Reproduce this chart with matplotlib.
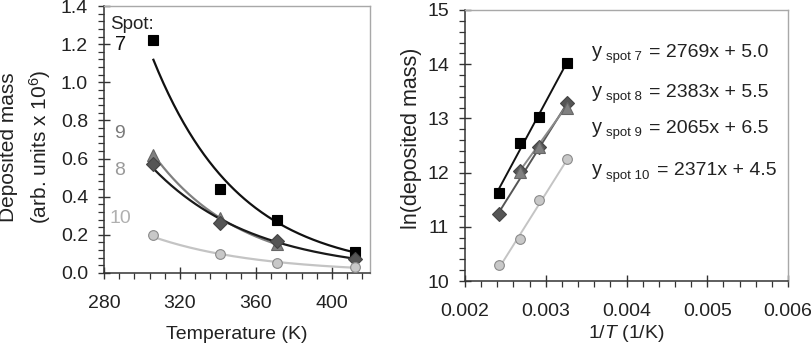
import numpy as np
import matplotlib
matplotlib.use("Agg")
import matplotlib.pyplot as plt
from matplotlib.ticker import MultipleLocator

plt.rcParams['font.family'] = ['Liberation Sans', 'DejaVu Sans']
plt.rcParams['mathtext.fontset'] = 'custom'
plt.rcParams['mathtext.rm'] = 'Liberation Sans'
plt.rcParams['mathtext.it'] = 'Liberation Sans:italic'

# left panel: deposited mass (arb. units x 10^6) vs temperature
temps = [306, 341, 371, 412]
mass_7 = [1.22, 0.44, 0.28, 0.11]
mass_8 = [0.57, 0.26, 0.17, 0.075]
temps_9 = [306, 341, 371]
mass_9 = [0.62, 0.29, 0.15]
mass_10 = [0.20, 0.10, 0.05, 0.03]

# right panel: ln(deposited mass) vs 1/T
inv_t = [0.00242, 0.00268, 0.00292, 0.00326]
inv_t_9 = [0.00268, 0.00292, 0.00326]
ln_7 = [11.62, 12.55, 13.02, 14.03]
ln_8 = [11.23, 12.03, 12.47, 13.29]
ln_9 = [12.01, 12.48, 13.19]
ln_10 = [10.30, 10.77, 11.49, 12.25]

spot_names = ['spot 7', 'spot 8', 'spot 9', 'spot 10']
slopes = [2769, 2383, 2065, 2371]
intercepts = [5.0, 5.5, 6.5, 4.5]

fig = plt.figure(figsize=(8.12, 3.47), dpi=100)
ax1 = fig.add_axes([0.1281, 0.2133, 0.3276, 0.7694])
ax2 = fig.add_axes([0.5727, 0.1902, 0.3978, 0.7810])


def style(ax):
    for s in ['left', 'bottom']:
        ax.spines[s].set_color('#333333')
        ax.spines[s].set_linewidth(1.1)
    for s in ['top', 'right']:
        ax.spines[s].set_color('#a8a8a8')
        ax.spines[s].set_linewidth(1.0)
    ax.tick_params(which='major', direction='inout', length=9, width=1,
                   color='#333333', labelcolor='#222222', labelsize=14)
    ax.tick_params(which='minor', direction='out', length=4.3, width=0.9,
                   color='#333333')
    ax.tick_params(axis='x', which='major', pad=11)
    ax.tick_params(axis='y', which='major', pad=7)


# ---- left panel ----
series_left = [
    (temps, mass_7, 's', 'black', 'black', '#111111', 7.7),
    (temps_9, mass_9, '^', '#808080', '#666666', '#808080', 8.5),
    (temps, mass_8, 'D', '#555555', '#444444', '#1a1a1a', 6.8),
    (temps, mass_10, 'o', '#c8c8c8', '#8a8a8a', '#c4c4c4', 7.0),
]
for t, m, mk, face, edge, lc, ms in series_left:
    t = np.array(t, dtype=float)
    coef = np.polyfit(t, np.log(m), 1)
    tt = np.linspace(t.min(), t.max(), 200)
    ax1.plot(tt, np.exp(np.polyval(coef, tt)), color=lc, lw=1.6, zorder=2)
for t, m, mk, face, edge, lc, ms in series_left:
    ax1.plot(t, m, ls='none', marker=mk, ms=ms, mfc=face, mec=edge, mew=0.8, zorder=3)

ax1.set_xlim(280, 420)
ax1.set_ylim(0, 1.4)
ax1.set_xticks([280, 320, 360, 400])
ax1.set_yticks(np.arange(0, 1.41, 0.2))
ax1.yaxis.set_major_formatter(plt.FormatStrFormatter('%.1f'))
ax1.xaxis.set_minor_locator(MultipleLocator(8))
ax1.yaxis.set_minor_locator(MultipleLocator(0.04))
style(ax1)

ax1.text(294.5, 1.305, 'Spot:', fontsize=13.5, ha='center', va='center', color='#222222')
ax1.text(288.5, 1.196, '7', fontsize=14.5, ha='center', va='center', color='#111111')
ax1.text(288, 0.734, '9', fontsize=14, ha='center', va='center', color='#7a7a7a')
ax1.text(288, 0.540, '8', fontsize=14, ha='center', va='center', color='#9a9a9a')
ax1.text(288.5, 0.288, '10', fontsize=14, ha='center', va='center', color='#b0b0b0')

fig.text(237 / 812, 0.035, 'Temperature (K)', fontsize=14, ha='center', va='center', color='#222222')
fig.text(9 / 812, 0.576, 'Deposited mass', fontsize=15, rotation=90,
         ha='center', va='center', color='#222222')
fig.text(40 / 812, 0.576, r'(arb. units x $\mathregular{10^6}$)', fontsize=15, rotation=90,
         ha='center', va='center', color='#222222')

# ---- right panel ----
series_right = [
    (inv_t, ln_7, 's', 'black', 'black', '#111111', 7.7, 0),
    (inv_t, ln_8, 'D', '#555555', '#444444', '#555555', 6.8, 1),
    (inv_t_9, ln_9, '^', '#808080', '#666666', '#8a8a8a', 8.5, 2),
    (inv_t, ln_10, 'o', '#c8c8c8', '#8a8a8a', '#c4c4c4', 7.0, 3),
]
for x, y, mk, face, edge, lc, ms, k in series_right:
    xx = np.array([min(x), max(x)])
    ax2.plot(xx, slopes[k] * xx + intercepts[k], color=lc, lw=1.4, zorder=2)
for x, y, mk, face, edge, lc, ms, k in series_right:
    ax2.plot(x, y, ls='none', marker=mk, ms=ms, mfc=face, mec=edge, mew=0.8, zorder=3)

ax2.set_xlim(0.002, 0.006)
ax2.set_ylim(10, 15)
ax2.set_xticks([0.002, 0.003, 0.004, 0.005, 0.006])
ax2.xaxis.set_major_formatter(plt.FormatStrFormatter('%.3f'))
ax2.xaxis.set_minor_locator(MultipleLocator(0.0002))
ax2.yaxis.set_minor_locator(MultipleLocator(0.2))
style(ax2)

row_base = [14.13, 13.40, 12.73, 11.95]
for k in range(4):
    t = ax2.text(0.003573, row_base[k], 'y', fontsize=14.5, ha='left', va='baseline', color='#222222')
    s = ax2.annotate(spot_names[k], xy=(1, row_base[k]), xycoords=(t, 'data'),
                     xytext=(3, -2.4), textcoords='offset points',
                     fontsize=9.5, ha='left', va='baseline', color='#222222')
    ax2.annotate('= %dx + %.1f' % (slopes[k], intercepts[k]), xy=(1, row_base[k]),
                 xycoords=(s, 'data'), xytext=(5, 0), textcoords='offset points',
                 fontsize=14, ha='left', va='baseline', color='#222222')

fig.text(626 / 812, 1 - 333 / 347, r'1/$\mathit{T}$ (1/K)', fontsize=14,
         ha='center', va='center', color='#222222')
fig.text(412 / 812, 0.602, 'ln(deposited mass)', fontsize=15.5, rotation=90,
         ha='center', va='center', color='#222222')

fig.savefig('out.png', dpi=100)
